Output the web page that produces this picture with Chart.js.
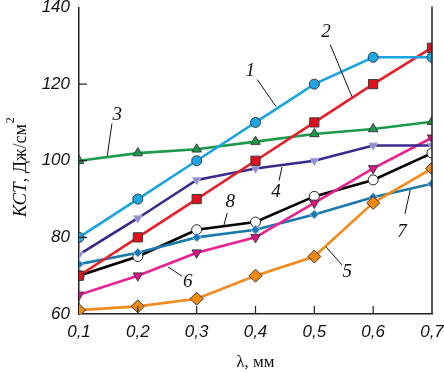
<!DOCTYPE html>
<html>
<head>
<meta charset="utf-8">
<script src="https://cdn.jsdelivr.net/npm/chart.js@4"></script>
<style>
  html, body { margin: 0; padding: 0; background: #fff; }
  #wrap { width: 444px; height: 373px; position: relative; }
</style>
</head>
<body>
<div id="wrap"><canvas id="chart"></canvas></div>
<script>
// lambda, mm
const lambdaValues = [0.1, 0.2, 0.3, 0.4, 0.5, 0.6, 0.7];

// KCT, J/cm^2 for each curve
const curve1 = [80, 90, 100, 110, 120, 127, 127];
const curve2 = [70, 80, 90, 100, 110, 120, 129.5];
const curve3 = [100, 102, 103, 105, 107, 108.3, 110.2];
const curve4 = [75.5, 85, 95, 98, 100, 104, 104];
const curve5 = [61, 62, 64, 70, 75, 89, 98];
const curve6 = [65, 70, 76, 80, 89, 98, 106];
const curve7 = [73, 76, 80, 82, 86, 90.5, 94];
const curve8 = [70, 75, 82, 84, 90.7, 95, 102];

const curveNames = ['1', '2', '3', '4', '5', '6', '7', '8'];
const yTicks = [60, 80, 100, 120, 140];

function pts(values) {
  return lambdaValues.map((x, i) => ({ x: x, y: values[i] }));
}

function series(name, values, color, marker) {
  return Object.assign({
    label: name,
    data: pts(values),
    borderColor: color,
    borderWidth: 2.6,
    pointBorderColor: '#3a3a3a',
    pointBorderWidth: 1,
    pointRadius: 5,
    tension: 0
  }, marker);
}

const datasets = [
  series(curveNames[0], curve1, '#1aa4e2', { pointStyle: 'circle', pointBackgroundColor: '#1ea6e6', pointRadius: 5 }),
  series(curveNames[1], curve2, '#e61e28', { pointStyle: 'rect', pointBackgroundColor: '#e0101c', pointRadius: 6.5 }),
  series(curveNames[2], curve3, '#1c9a4a', { pointStyle: 'triangle', pointBackgroundColor: '#1c9a4a', pointRadius: 5.5 }),
  series(curveNames[3], curve4, '#3b2a8c', { pointStyle: 'triangle', rotation: 180, pointBackgroundColor: '#8c8cd0', pointBorderColor: '#b8b8dc', pointRadius: 5 }),
  series(curveNames[4], curve5, '#f28a1c', { pointStyle: 'rectRot', pointBackgroundColor: '#f28a10', pointRadius: 6.5 }),
  series(curveNames[5], curve6, '#ea2090', { pointStyle: 'triangle', rotation: 180, pointBackgroundColor: '#e4108a', pointRadius: 5.5 }),
  series(curveNames[6], curve7, '#1a78aa', { pointStyle: 'rectRot', pointBackgroundColor: '#1a78b4', pointBorderColor: '#a8c8e0', pointRadius: 4.5 }),
  series(curveNames[7], curve8, '#000000', { pointStyle: 'circle', pointBackgroundColor: '#ffffff', pointBorderColor: '#222', pointRadius: 5 })
];

// curve number callouts: text point and leader line, in data units
const callouts = [
  { t: '1', x: 0.391, y: 123.3, line: [0.403, 121.2, 0.435, 114.1] },
  { t: '2', x: 0.520, y: 133.5, line: [0.527, 130.3, 0.564, 116.7] },
  { t: '3', x: 0.165, y: 112.0, line: [0.156, 109.7, 0.148, 101.3] },
  { t: '4', x: 0.435, y: 91.9, line: [0.445, 98.4, 0.440, 94.8] },
  { t: '5', x: 0.556, y: 71.0, line: [0.520, 77.5, 0.547, 72.8] },
  { t: '6', x: 0.285, y: 68.4, line: [0.251, 72.3, 0.275, 69.9] },
  { t: '7', x: 0.649, y: 81.4, line: [0.663, 92.4, 0.654, 86.1] },
  { t: '8', x: 0.357, y: 89.3, line: [0.352, 86.4, 0.346, 83.0] }
];

const decorPlugin = {
  id: 'decor',
  afterDraw(chart) {
    const ctx = chart.ctx;
    const xs = chart.scales.x;
    const ys = chart.scales.y;
    const area = chart.chartArea;

    ctx.save();
    ctx.strokeStyle = '#222';
    ctx.lineWidth = 1.5;

    // right frame line
    ctx.beginPath();
    ctx.moveTo(area.right, area.top - 1);
    ctx.lineTo(area.right, area.bottom);
    ctx.stroke();

    // inward ticks
    ctx.lineWidth = 1.2;
    lambdaValues.slice(1, -1).forEach(v => {
      const px = xs.getPixelForValue(v);
      ctx.beginPath();
      ctx.moveTo(px, area.bottom);
      ctx.lineTo(px, area.bottom - 8);
      ctx.stroke();
    });
    yTicks.slice(1, -1).forEach(v => {
      const py = ys.getPixelForValue(v);
      ctx.beginPath();
      ctx.moveTo(area.left, py);
      ctx.lineTo(area.left + 8, py);
      ctx.stroke();
    });

    // callouts
    ctx.lineWidth = 1;
    ctx.strokeStyle = '#111';
    ctx.fillStyle = '#111';
    ctx.font = 'italic 19px "Liberation Serif", "DejaVu Serif", serif';
    ctx.textAlign = 'center';
    ctx.textBaseline = 'middle';
    callouts.forEach(c => {
      const l = c.line;
      ctx.beginPath();
      ctx.moveTo(xs.getPixelForValue(l[0]), ys.getPixelForValue(l[1]));
      ctx.lineTo(xs.getPixelForValue(l[2]), ys.getPixelForValue(l[3]));
      ctx.stroke();
      ctx.fillText(c.t, xs.getPixelForValue(c.x), ys.getPixelForValue(c.y));
    });

    // y axis title with superscript
    ctx.translate(21, (area.top + area.bottom) / 2 + 7);
    ctx.rotate(-Math.PI / 2);
    ctx.textAlign = 'left';
    ctx.textBaseline = 'middle';
    const part1 = 'КСТ';
    const part2 = ', Дж/см';
    ctx.font = 'italic 19px "Liberation Serif", serif';
    const w1 = ctx.measureText(part1).width;
    ctx.font = '18px "Liberation Serif", serif';
    const w2 = ctx.measureText(part2).width;
    const sup = '2';
    ctx.font = '12px "Liberation Serif", serif';
    const w3 = ctx.measureText(sup).width;
    let x0 = -(w1 + w2 + w3) / 2;
    ctx.font = 'italic 19px "Liberation Serif", serif';
    ctx.fillText(part1, x0, 0);
    x0 += w1;
    ctx.font = '18px "Liberation Serif", serif';
    ctx.fillText(part2, x0, 0);
    x0 += w2 + 1;
    ctx.font = '12px "Liberation Serif", serif';
    ctx.fillText(sup, x0, -10);
    ctx.restore();
  }
};

function noOverflow(s) {
  s.paddingTop = 0;
  s.paddingBottom = 0;
  s.paddingLeft = 0;
  s.paddingRight = 0;
}

new Chart(document.getElementById('chart'), {
  type: 'line',
  data: { datasets: datasets },
  options: {
    responsive: true,
    maintainAspectRatio: false,
    animation: false,
    layout: { padding: { top: 7, right: 12, left: 0, bottom: 0 } },
    plugins: {
      legend: { display: false },
      tooltip: { enabled: false }
    },
    scales: {
      x: {
        type: 'linear',
        min: 0.1,
        max: 0.7,
        grid: { display: false },
        border: { display: true, color: '#222', width: 1.5 },
        afterFit: s => { s.height = 59; noOverflow(s); },
        afterBuildTicks: s => { s.ticks = lambdaValues.map(v => ({ value: v })); },
        ticks: {
          padding: 0,
          color: '#111',
          font: { family: '"Liberation Sans", Arial, sans-serif', size: 17, style: 'italic' },
          callback: v => v.toFixed(1).replace('.', ',')
        },
        title: {
          display: true,
          text: 'λ, мм',
          color: '#111',
          font: { family: '"Liberation Serif", serif', size: 17 },
          padding: { top: 4, bottom: 0 }
        }
      },
      y: {
        min: 60,
        max: 140,
        grid: { display: false },
        border: { display: true, color: '#222', width: 1.5 },
        afterFit: s => { s.width = 79; noOverflow(s); },
        afterBuildTicks: s => { s.ticks = yTicks.map(v => ({ value: v })); },
        ticks: {
          padding: 1,
          color: '#111',
          font: { family: '"Liberation Sans", Arial, sans-serif', size: 17, style: 'italic' }
        }
      }
    }
  },
  plugins: [decorPlugin]
});
</script>
</body>
</html>
